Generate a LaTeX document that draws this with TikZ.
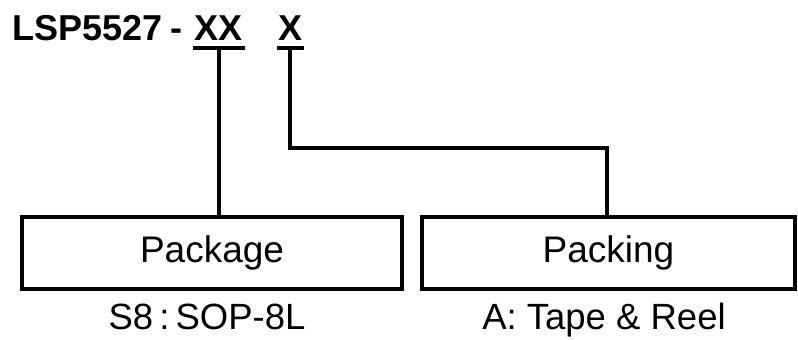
\documentclass[tikz,border=0pt]{standalone}
\usepackage{fontspec}
\setmainfont{Liberation Sans}
\begin{document}
\begin{tikzpicture}[x=1pt,y=-1pt,
  boxline/.style={line width=4pt},
  lbl/.style={inner sep=0pt,font=\fontsize{36.5}{40}\selectfont},
  ttl/.style={inner sep=0pt,anchor=base west,font=\fontsize{36}{40}\selectfont\bfseries}]
\useasboundingbox (0,0) rectangle (798,340);
% title
\node[ttl] (pn) at (12,40) {LSP5527};
\node[ttl] (dash) at (170,40) {-};
\node[ttl] (xx) at (194,40) {XX};
\node[ttl] (x) at (278,40) {X};
\coordinate (u1a) at (193,48);
\coordinate (u1b) at (245,48);
\coordinate (u2a) at (277,48);
\coordinate (u2b) at (304,48);
\draw[boxline] (u1a) -- (u1b);
\draw[boxline] (u2a) -- (u2b);
% boxes
\node[draw,boxline,minimum width=380pt,minimum height=72pt,inner sep=0pt,anchor=north west,font=\fontsize{37}{40}\selectfont] (pkg) at (20,215) {Package};
\node[draw,boxline,minimum width=373pt,minimum height=72pt,inner sep=0pt,anchor=north west,font=\fontsize{37}{40}\selectfont] (pck) at (420,215) {Packing};
% connectors
\coordinate (c1) at (219,48);
\draw[boxline] (c1) -- (pkg.north -| c1);
\coordinate (c2) at (290,48);
\coordinate (c3) at (290,148);
\coordinate (c4) at (607,148);
\draw[boxline,line join=miter] (c2) -- (c3) -- (c4) -- (pck.north -| c4);
% labels
\node[lbl,anchor=base] (l1) at (207,329) {S8\,:\,SOP-8L};
\node[lbl,anchor=base] (l2) at (604,329) {A: Tape \& Reel};
\end{tikzpicture}
\end{document}
